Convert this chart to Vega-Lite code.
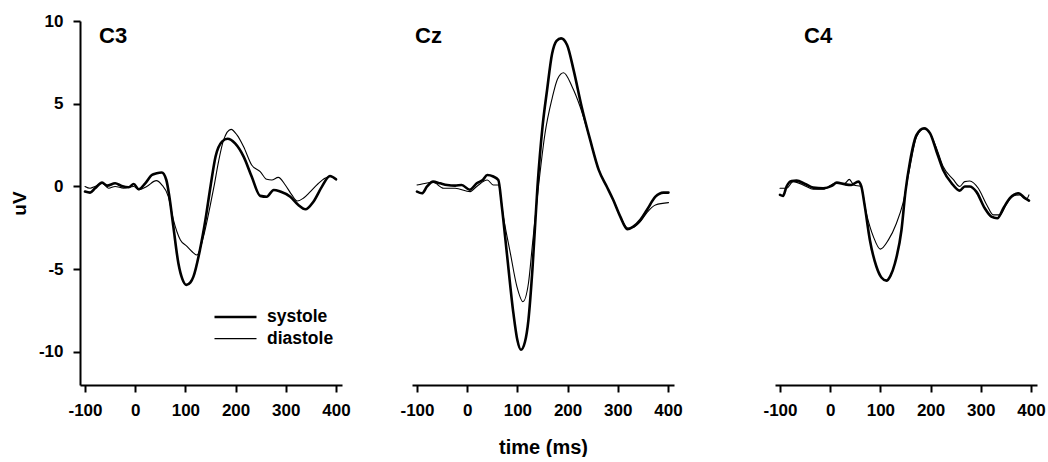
{
"$schema": "https://vega.github.io/schema/vega-lite/v6.json",
"background": "white",
"padding": {"left": 10, "top": 12, "right": 0, "bottom": 0},
"config": {
  "view": {"stroke": null},
  "font": "Liberation Sans",
  "axis": {"domainColor": "black", "domainWidth": 2, "tickColor": "black", "tickWidth": 2, "tickSize": 7, "labelColor": "black", "labelFont": "Liberation Sans", "labelFontSize": 17, "labelFontWeight": "bold", "labelExpr": "'' + datum.value", "grid": false, "titleFont": "Liberation Sans", "titleFontWeight": "bold", "titleColor": "black"}
},
"datasets": {
"eeg": [
{"channel":"C3","condition":"systole","time":-100,"uV":-0.31},
{"channel":"C3","condition":"systole","time":-90,"uV":-0.37},
{"channel":"C3","condition":"systole","time":-80,"uV":-0.11},
{"channel":"C3","condition":"systole","time":-66,"uV":0.23},
{"channel":"C3","condition":"systole","time":-56,"uV":0.05},
{"channel":"C3","condition":"systole","time":-40,"uV":0.19},
{"channel":"C3","condition":"systole","time":-27,"uV":0.03},
{"channel":"C3","condition":"systole","time":-13,"uV":-0.05},
{"channel":"C3","condition":"systole","time":-3,"uV":0.15},
{"channel":"C3","condition":"systole","time":7,"uV":-0.17},
{"channel":"C3","condition":"systole","time":20,"uV":0.19},
{"channel":"C3","condition":"systole","time":33,"uV":0.69},
{"channel":"C3","condition":"systole","time":43,"uV":0.8},
{"channel":"C3","condition":"systole","time":53,"uV":0.84},
{"channel":"C3","condition":"systole","time":62,"uV":0.39},
{"channel":"C3","condition":"systole","time":68,"uV":-0.61},
{"channel":"C3","condition":"systole","time":76,"uV":-2.43},
{"channel":"C3","condition":"systole","time":86,"uV":-4.64},
{"channel":"C3","condition":"systole","time":94,"uV":-5.6},
{"channel":"C3","condition":"systole","time":102,"uV":-5.95},
{"channel":"C3","condition":"systole","time":110,"uV":-5.8},
{"channel":"C3","condition":"systole","time":116,"uV":-5.45},
{"channel":"C3","condition":"systole","time":129,"uV":-3.83},
{"channel":"C3","condition":"systole","time":140,"uV":-2.0},
{"channel":"C3","condition":"systole","time":150,"uV":0.0},
{"channel":"C3","condition":"systole","time":160,"uV":1.8},
{"channel":"C3","condition":"systole","time":173,"uV":2.71},
{"channel":"C3","condition":"systole","time":184,"uV":2.88},
{"channel":"C3","condition":"systole","time":199,"uV":2.6},
{"channel":"C3","condition":"systole","time":216,"uV":1.8},
{"channel":"C3","condition":"systole","time":232,"uV":0.6},
{"channel":"C3","condition":"systole","time":249,"uV":-0.57},
{"channel":"C3","condition":"systole","time":262,"uV":-0.62},
{"channel":"C3","condition":"systole","time":276,"uV":-0.21},
{"channel":"C3","condition":"systole","time":289,"uV":-0.31},
{"channel":"C3","condition":"systole","time":309,"uV":-0.62},
{"channel":"C3","condition":"systole","time":325,"uV":-1.12},
{"channel":"C3","condition":"systole","time":339,"uV":-1.38},
{"channel":"C3","condition":"systole","time":355,"uV":-0.92},
{"channel":"C3","condition":"systole","time":372,"uV":-0.01},
{"channel":"C3","condition":"systole","time":388,"uV":0.63},
{"channel":"C3","condition":"systole","time":400,"uV":0.43},
{"channel":"C3","condition":"diastole","time":-100,"uV":0.0},
{"channel":"C3","condition":"diastole","time":-90,"uV":-0.11},
{"channel":"C3","condition":"diastole","time":-80,"uV":0.0},
{"channel":"C3","condition":"diastole","time":-66,"uV":0.2},
{"channel":"C3","condition":"diastole","time":-53,"uV":-0.11},
{"channel":"C3","condition":"diastole","time":-40,"uV":0.0},
{"channel":"C3","condition":"diastole","time":-23,"uV":-0.1},
{"channel":"C3","condition":"diastole","time":-3,"uV":0.0},
{"channel":"C3","condition":"diastole","time":7,"uV":-0.2},
{"channel":"C3","condition":"diastole","time":23,"uV":0.0},
{"channel":"C3","condition":"diastole","time":42,"uV":0.35},
{"channel":"C3","condition":"diastole","time":53,"uV":0.1},
{"channel":"C3","condition":"diastole","time":66,"uV":-0.61},
{"channel":"C3","condition":"diastole","time":76,"uV":-2.0},
{"channel":"C3","condition":"diastole","time":90,"uV":-3.23},
{"channel":"C3","condition":"diastole","time":102,"uV":-3.59},
{"channel":"C3","condition":"diastole","time":113,"uV":-3.93},
{"channel":"C3","condition":"diastole","time":123,"uV":-4.14},
{"channel":"C3","condition":"diastole","time":136,"uV":-3.03},
{"channel":"C3","condition":"diastole","time":149,"uV":-1.22},
{"channel":"C3","condition":"diastole","time":157,"uV":0.0},
{"channel":"C3","condition":"diastole","time":166,"uV":1.5},
{"channel":"C3","condition":"diastole","time":176,"uV":2.8},
{"channel":"C3","condition":"diastole","time":191,"uV":3.45},
{"channel":"C3","condition":"diastole","time":203,"uV":3.1},
{"channel":"C3","condition":"diastole","time":216,"uV":2.4},
{"channel":"C3","condition":"diastole","time":232,"uV":1.3},
{"channel":"C3","condition":"diastole","time":249,"uV":0.9},
{"channel":"C3","condition":"diastole","time":262,"uV":0.43},
{"channel":"C3","condition":"diastole","time":272,"uV":0.39},
{"channel":"C3","condition":"diastole","time":285,"uV":0.55},
{"channel":"C3","condition":"diastole","time":299,"uV":0.09},
{"channel":"C3","condition":"diastole","time":312,"uV":-0.51},
{"channel":"C3","condition":"diastole","time":323,"uV":-0.88},
{"channel":"C3","condition":"diastole","time":335,"uV":-0.71},
{"channel":"C3","condition":"diastole","time":349,"uV":-0.31},
{"channel":"C3","condition":"diastole","time":362,"uV":0.09},
{"channel":"C3","condition":"diastole","time":378,"uV":0.5},
{"channel":"C3","condition":"diastole","time":388,"uV":0.6},
{"channel":"C3","condition":"diastole","time":400,"uV":0.45},
{"channel":"Cz","condition":"systole","time":-100,"uV":-0.31},
{"channel":"Cz","condition":"systole","time":-90,"uV":-0.41},
{"channel":"Cz","condition":"systole","time":-80,"uV":0.0},
{"channel":"Cz","condition":"systole","time":-68,"uV":0.29},
{"channel":"Cz","condition":"systole","time":-54,"uV":0.19},
{"channel":"Cz","condition":"systole","time":-40,"uV":0.09},
{"channel":"Cz","condition":"systole","time":-24,"uV":0.05},
{"channel":"Cz","condition":"systole","time":-11,"uV":0.09},
{"channel":"Cz","condition":"systole","time":5,"uV":-0.2},
{"channel":"Cz","condition":"systole","time":19,"uV":0.19},
{"channel":"Cz","condition":"systole","time":31,"uV":0.39},
{"channel":"Cz","condition":"systole","time":40,"uV":0.69},
{"channel":"Cz","condition":"systole","time":52,"uV":0.6},
{"channel":"Cz","condition":"systole","time":62,"uV":0.39},
{"channel":"Cz","condition":"systole","time":69,"uV":-1.22},
{"channel":"Cz","condition":"systole","time":79,"uV":-4.04},
{"channel":"Cz","condition":"systole","time":92,"uV":-7.66},
{"channel":"Cz","condition":"systole","time":100,"uV":-9.3},
{"channel":"Cz","condition":"systole","time":107,"uV":-9.87},
{"channel":"Cz","condition":"systole","time":115,"uV":-9.4},
{"channel":"Cz","condition":"systole","time":122,"uV":-8.06},
{"channel":"Cz","condition":"systole","time":130,"uV":-5.0},
{"channel":"Cz","condition":"systole","time":140,"uV":0.0},
{"channel":"Cz","condition":"systole","time":150,"uV":3.6},
{"channel":"Cz","condition":"systole","time":159,"uV":5.8},
{"channel":"Cz","condition":"systole","time":169,"uV":8.0},
{"channel":"Cz","condition":"systole","time":178,"uV":8.8},
{"channel":"Cz","condition":"systole","time":187,"uV":8.95},
{"channel":"Cz","condition":"systole","time":199,"uV":8.55},
{"channel":"Cz","condition":"systole","time":212,"uV":7.03},
{"channel":"Cz","condition":"systole","time":228,"uV":4.82},
{"channel":"Cz","condition":"systole","time":245,"uV":2.81},
{"channel":"Cz","condition":"systole","time":262,"uV":1.0},
{"channel":"Cz","condition":"systole","time":278,"uV":0.0},
{"channel":"Cz","condition":"systole","time":291,"uV":-0.82},
{"channel":"Cz","condition":"systole","time":305,"uV":-1.82},
{"channel":"Cz","condition":"systole","time":319,"uV":-2.58},
{"channel":"Cz","condition":"systole","time":331,"uV":-2.43},
{"channel":"Cz","condition":"systole","time":345,"uV":-2.02},
{"channel":"Cz","condition":"systole","time":358,"uV":-1.42},
{"channel":"Cz","condition":"systole","time":375,"uV":-0.62},
{"channel":"Cz","condition":"systole","time":391,"uV":-0.37},
{"channel":"Cz","condition":"systole","time":401,"uV":-0.37},
{"channel":"Cz","condition":"diastole","time":-100,"uV":0.09},
{"channel":"Cz","condition":"diastole","time":-90,"uV":0.15},
{"channel":"Cz","condition":"diastole","time":-68,"uV":0.25},
{"channel":"Cz","condition":"diastole","time":-47,"uV":-0.11},
{"channel":"Cz","condition":"diastole","time":-24,"uV":-0.11},
{"channel":"Cz","condition":"diastole","time":6,"uV":-0.31},
{"channel":"Cz","condition":"diastole","time":19,"uV":0.0},
{"channel":"Cz","condition":"diastole","time":40,"uV":0.39},
{"channel":"Cz","condition":"diastole","time":52,"uV":0.09},
{"channel":"Cz","condition":"diastole","time":62,"uV":0.09},
{"channel":"Cz","condition":"diastole","time":72,"uV":-1.82},
{"channel":"Cz","condition":"diastole","time":86,"uV":-4.04},
{"channel":"Cz","condition":"diastole","time":99,"uV":-6.05},
{"channel":"Cz","condition":"diastole","time":111,"uV":-6.96},
{"channel":"Cz","condition":"diastole","time":122,"uV":-5.85},
{"channel":"Cz","condition":"diastole","time":130,"uV":-3.5},
{"channel":"Cz","condition":"diastole","time":142,"uV":0.0},
{"channel":"Cz","condition":"diastole","time":155,"uV":3.2},
{"channel":"Cz","condition":"diastole","time":169,"uV":5.3},
{"channel":"Cz","condition":"diastole","time":180,"uV":6.5},
{"channel":"Cz","condition":"diastole","time":192,"uV":6.87},
{"channel":"Cz","condition":"diastole","time":209,"uV":6.03},
{"channel":"Cz","condition":"diastole","time":225,"uV":4.82},
{"channel":"Cz","condition":"diastole","time":245,"uV":2.81},
{"channel":"Cz","condition":"diastole","time":262,"uV":1.0},
{"channel":"Cz","condition":"diastole","time":278,"uV":0.0},
{"channel":"Cz","condition":"diastole","time":291,"uV":-0.82},
{"channel":"Cz","condition":"diastole","time":305,"uV":-1.82},
{"channel":"Cz","condition":"diastole","time":321,"uV":-2.53},
{"channel":"Cz","condition":"diastole","time":328,"uV":-2.5},
{"channel":"Cz","condition":"diastole","time":345,"uV":-2.12},
{"channel":"Cz","condition":"diastole","time":358,"uV":-1.58},
{"channel":"Cz","condition":"diastole","time":375,"uV":-1.12},
{"channel":"Cz","condition":"diastole","time":401,"uV":-0.98},
{"channel":"C4","condition":"systole","time":-100,"uV":-0.51},
{"channel":"C4","condition":"systole","time":-94,"uV":-0.57},
{"channel":"C4","condition":"systole","time":-87,"uV":0.0},
{"channel":"C4","condition":"systole","time":-77,"uV":0.33},
{"channel":"C4","condition":"systole","time":-67,"uV":0.35},
{"channel":"C4","condition":"systole","time":-50,"uV":0.15},
{"channel":"C4","condition":"systole","time":-34,"uV":-0.07},
{"channel":"C4","condition":"systole","time":-14,"uV":-0.11},
{"channel":"C4","condition":"systole","time":3,"uV":0.03},
{"channel":"C4","condition":"systole","time":13,"uV":0.23},
{"channel":"C4","condition":"systole","time":29,"uV":0.13},
{"channel":"C4","condition":"systole","time":42,"uV":0.09},
{"channel":"C4","condition":"systole","time":56,"uV":0.29},
{"channel":"C4","condition":"systole","time":62,"uV":0.0},
{"channel":"C4","condition":"systole","time":69,"uV":-1.22},
{"channel":"C4","condition":"systole","time":79,"uV":-3.23},
{"channel":"C4","condition":"systole","time":92,"uV":-4.84},
{"channel":"C4","condition":"systole","time":102,"uV":-5.5},
{"channel":"C4","condition":"systole","time":112,"uV":-5.69},
{"channel":"C4","condition":"systole","time":120,"uV":-5.4},
{"channel":"C4","condition":"systole","time":129,"uV":-4.64},
{"channel":"C4","condition":"systole","time":142,"uV":-2.63},
{"channel":"C4","condition":"systole","time":150,"uV":-0.3},
{"channel":"C4","condition":"systole","time":159,"uV":1.5},
{"channel":"C4","condition":"systole","time":172,"uV":3.11},
{"channel":"C4","condition":"systole","time":187,"uV":3.51},
{"channel":"C4","condition":"systole","time":199,"uV":3.21},
{"channel":"C4","condition":"systole","time":212,"uV":2.1},
{"channel":"C4","condition":"systole","time":225,"uV":1.0},
{"channel":"C4","condition":"systole","time":242,"uV":0.19},
{"channel":"C4","condition":"systole","time":258,"uV":-0.25},
{"channel":"C4","condition":"systole","time":268,"uV":0.0},
{"channel":"C4","condition":"systole","time":278,"uV":0.0},
{"channel":"C4","condition":"systole","time":291,"uV":-0.31},
{"channel":"C4","condition":"systole","time":308,"uV":-1.32},
{"channel":"C4","condition":"systole","time":321,"uV":-1.82},
{"channel":"C4","condition":"systole","time":333,"uV":-1.92},
{"channel":"C4","condition":"systole","time":345,"uV":-1.32},
{"channel":"C4","condition":"systole","time":358,"uV":-0.71},
{"channel":"C4","condition":"systole","time":375,"uV":-0.41},
{"channel":"C4","condition":"systole","time":388,"uV":-0.71},
{"channel":"C4","condition":"systole","time":396,"uV":-0.86},
{"channel":"C4","condition":"diastole","time":-100,"uV":-0.11},
{"channel":"C4","condition":"diastole","time":-87,"uV":-0.11},
{"channel":"C4","condition":"diastole","time":-74,"uV":0.29},
{"channel":"C4","condition":"diastole","time":-50,"uV":0.03},
{"channel":"C4","condition":"diastole","time":-34,"uV":-0.17},
{"channel":"C4","condition":"diastole","time":-14,"uV":-0.17},
{"channel":"C4","condition":"diastole","time":10,"uV":0.19},
{"channel":"C4","condition":"diastole","time":29,"uV":0.19},
{"channel":"C4","condition":"diastole","time":38,"uV":0.43},
{"channel":"C4","condition":"diastole","time":47,"uV":0.09},
{"channel":"C4","condition":"diastole","time":61,"uV":0.0},
{"channel":"C4","condition":"diastole","time":72,"uV":-1.62},
{"channel":"C4","condition":"diastole","time":86,"uV":-3.03},
{"channel":"C4","condition":"diastole","time":100,"uV":-3.79},
{"channel":"C4","condition":"diastole","time":116,"uV":-3.23},
{"channel":"C4","condition":"diastole","time":132,"uV":-2.22},
{"channel":"C4","condition":"diastole","time":145,"uV":-1.01},
{"channel":"C4","condition":"diastole","time":159,"uV":1.2},
{"channel":"C4","condition":"diastole","time":172,"uV":3.0},
{"channel":"C4","condition":"diastole","time":187,"uV":3.5},
{"channel":"C4","condition":"diastole","time":199,"uV":3.2},
{"channel":"C4","condition":"diastole","time":212,"uV":2.3},
{"channel":"C4","condition":"diastole","time":225,"uV":1.2},
{"channel":"C4","condition":"diastole","time":245,"uV":0.43},
{"channel":"C4","condition":"diastole","time":258,"uV":0.0},
{"channel":"C4","condition":"diastole","time":268,"uV":0.29},
{"channel":"C4","condition":"diastole","time":278,"uV":0.33},
{"channel":"C4","condition":"diastole","time":295,"uV":-0.11},
{"channel":"C4","condition":"diastole","time":312,"uV":-1.12},
{"channel":"C4","condition":"diastole","time":325,"uV":-1.72},
{"channel":"C4","condition":"diastole","time":338,"uV":-1.72},
{"channel":"C4","condition":"diastole","time":352,"uV":-1.01},
{"channel":"C4","condition":"diastole","time":365,"uV":-0.57},
{"channel":"C4","condition":"diastole","time":378,"uV":-0.51},
{"channel":"C4","condition":"diastole","time":391,"uV":-0.77},
{"channel":"C4","condition":"diastole","time":396,"uV":-0.51}
]
},
"spacing": 80,
"resolve": {"scale": {"strokeWidth": "independent"}, "legend": {"strokeWidth": "independent"}},
"hconcat": [
{
  "bounds": "flush",
  "spacing": 70,
  "resolve": {"scale": {"strokeWidth": "independent"}, "legend": {"strokeWidth": "independent"}},
  "hconcat": [
  {
    "width": 262, "height": 364,
    "layer": [
      {
        "data": {"name": "eeg"},
        "transform": [{"filter": "datum.channel === 'C3'"}],
        "mark": {"type": "line", "interpolate": "monotone", "color": "black", "strokeJoin": "round", "strokeCap": "round"},
        "encoding": {
          "x": {"field": "time", "type": "quantitative", "scale": {"domain": [-110, 412], "nice": false, "zero": false}, "axis": {"values": [-100, 0, 100, 200, 300, 400], "title": null, "labelFlush": false, "labelPadding": 10}},
          "y": {"field": "uV", "type": "quantitative", "scale": {"domain": [-12, 10], "nice": false, "zero": false}, "axis": {"values": [-10, -5, 0, 5, 10], "title": "uV", "titleFontSize": 19, "titlePadding": 9, "labelPadding": 10}},
          "strokeWidth": {"field": "condition", "type": "nominal", "scale": {"domain": ["systole", "diastole"], "range": [2.6, 1.1]},
            "legend": {"orient": "none", "legendX": 133, "legendY": 287, "title": null, "symbolType": "stroke", "symbolSize": 1764, "symbolStrokeColor": "black", "labelFontSize": 17.5, "labelFont": "Liberation Sans", "labelFontWeight": "bold", "labelColor": "black", "labelOffset": 9, "clipHeight": 18, "rowPadding": 3.6}}
        }
      },
      {
        "data": {"values": [{"label": "C3"}]},
        "mark": {"type": "text", "align": "left", "baseline": "alphabetic", "fontSize": 22, "fontWeight": "bold", "font": "Liberation Sans", "color": "black"},
        "encoding": {"x": {"datum": -72, "type": "quantitative"}, "y": {"datum": 8.65, "type": "quantitative"}, "text": {"field": "label"}}
      }
    ]
  },
  {
    "width": 262, "height": 364,
    "layer": [
      {
        "data": {"name": "eeg"},
        "transform": [{"filter": "datum.channel === 'Cz'"}],
        "mark": {"type": "line", "interpolate": "monotone", "color": "black", "strokeJoin": "round", "strokeCap": "round"},
        "encoding": {
          "x": {"field": "time", "type": "quantitative", "scale": {"domain": [-110, 412], "nice": false, "zero": false}, "axis": {"values": [-100, 0, 100, 200, 300, 400], "title": "time (ms)", "titleFontSize": 20, "titlePadding": 19, "labelFlush": false, "labelPadding": 10}},
          "y": {"field": "uV", "type": "quantitative", "scale": {"domain": [-12, 10], "nice": false, "zero": false}, "axis": null},
          "strokeWidth": {"field": "condition", "type": "nominal", "scale": {"domain": ["systole", "diastole"], "range": [2.6, 1.1]}, "legend": null}
        }
      },
      {
        "data": {"values": [{"label": "Cz"}]},
        "mark": {"type": "text", "align": "left", "baseline": "alphabetic", "fontSize": 22, "fontWeight": "bold", "font": "Liberation Sans", "color": "black"},
        "encoding": {"x": {"datum": -104, "type": "quantitative"}, "y": {"datum": 8.65, "type": "quantitative"}, "text": {"field": "label"}}
      }
    ]
  }
  ]
},
{
  "width": 262, "height": 364,
  "layer": [
    {
      "data": {"name": "eeg"},
      "transform": [{"filter": "datum.channel === 'C4'"}],
      "mark": {"type": "line", "interpolate": "monotone", "color": "black", "strokeJoin": "round", "strokeCap": "round"},
      "encoding": {
        "x": {"field": "time", "type": "quantitative", "scale": {"domain": [-110, 412], "nice": false, "zero": false}, "axis": {"values": [-100, 0, 100, 200, 300, 400], "title": null, "labelFlush": false, "labelPadding": 10}},
        "y": {"field": "uV", "type": "quantitative", "scale": {"domain": [-12, 10], "nice": false, "zero": false}, "axis": null},
        "strokeWidth": {"field": "condition", "type": "nominal", "scale": {"domain": ["systole", "diastole"], "range": [2.6, 1.1]}, "legend": null}
      }
    },
    {
      "data": {"values": [{"label": "C4"}]},
      "mark": {"type": "text", "align": "left", "baseline": "alphabetic", "fontSize": 22, "fontWeight": "bold", "font": "Liberation Sans", "color": "black"},
      "encoding": {"x": {"datum": -52, "type": "quantitative"}, "y": {"datum": 8.65, "type": "quantitative"}, "text": {"field": "label"}}
    }
  ]
}
]
}
